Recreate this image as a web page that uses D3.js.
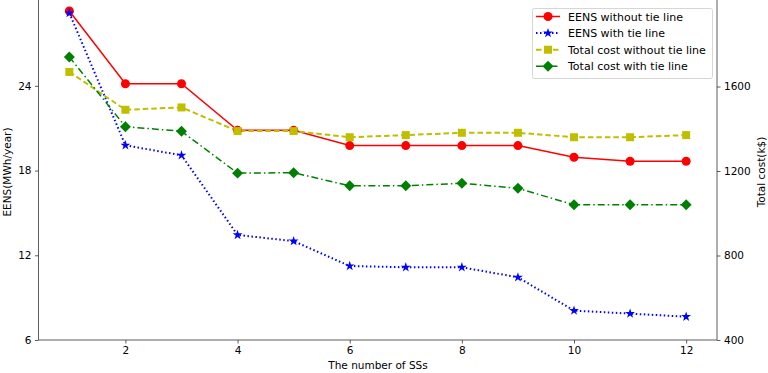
<!DOCTYPE html>
<html>
<head>
<meta charset="utf-8">
<script src="https://cdn.jsdelivr.net/npm/d3@7"></script>
<style>
  body { margin: 0; background: #fff; }
  text { font-family: "DejaVu Sans", sans-serif; fill: #000; }
</style>
</head>
<body>
<div id="chart"></div>
<script>
// data
const ssCount = [1, 2, 3, 4, 5, 6, 7, 8, 9, 10, 11, 12];
const eensWithout = [29.3, 24.15, 24.15, 20.85, 20.85, 19.77, 19.77, 19.77, 19.77, 18.94, 18.66, 18.66];
const eensWith = [29.16, 19.79, 19.08, 13.44, 13.0, 11.24, 11.15, 11.15, 10.44, 8.08, 7.87, 7.65];
const costWithout = [1669, 1490, 1501, 1389, 1389, 1360, 1370, 1381, 1381, 1360, 1360, 1370];
const costWith = [1740, 1410, 1388, 1190, 1192, 1130, 1130, 1142, 1118, 1040, 1040, 1040];
const xTicks = [2, 4, 6, 8, 10, 12];
const leftTicks = [6, 12, 18, 24];
const rightTicks = [400, 800, 1200, 1600];

const WIDTH = 768, HEIGHT = 373;
const svg = d3.select("#chart").append("svg")
  .attr("width", WIDTH)
  .attr("height", HEIGHT);

// scales
const x = d3.scaleLinear().domain([0.45, 12.55]).range([38.5, 717]);
const yL = d3.scaleLinear().domain([6, 30.08]).range([340, 0]);
const yR = d3.scaleLinear().domain([400, 2009.6]).range([340, 0]);

// axes
const xAxis = svg.append("g")
  .attr("transform", "translate(0,340)")
  .call(d3.axisBottom(x).tickValues(xTicks).tickSize(3.5).tickPadding(3.5));
const lAxis = svg.append("g")
  .attr("transform", "translate(38.5,0)")
  .call(d3.axisLeft(yL).tickValues(leftTicks).tickSize(3.5).tickPadding(3.5));
const rAxis = svg.append("g")
  .attr("transform", "translate(717,0)")
  .call(d3.axisRight(yR).tickValues(rightTicks).tickFormat(d3.format("d")).tickSize(3.5).tickPadding(3.5));

[xAxis, lAxis, rAxis].forEach(a => {
  a.select(".domain").remove();
  a.selectAll("line").attr("stroke", "#333").attr("stroke-width", 0.8);
  a.selectAll("text").attr("font-size", "10.5px").attr("font-family", "DejaVu Sans, sans-serif");
});

// spines
svg.append("line").attr("x1", 38.5).attr("x2", 38.5).attr("y1", 0).attr("y2", 340)
  .attr("stroke", "#333").attr("stroke-width", 0.8);
svg.append("line").attr("x1", 717).attr("x2", 717).attr("y1", 0).attr("y2", 340)
  .attr("stroke", "#333").attr("stroke-width", 0.8);
svg.append("line").attr("x1", 38.5).attr("x2", 717).attr("y1", 340).attr("y2", 340)
  .attr("stroke", "#333").attr("stroke-width", 0.8);

// axis labels
svg.append("text")
  .attr("x", 378).attr("y", 369)
  .attr("text-anchor", "middle")
  .attr("font-size", "10.5px")
  .text("The number of SSs");
svg.append("text")
  .attr("transform", "translate(11,172) rotate(-90)")
  .attr("text-anchor", "middle")
  .attr("font-size", "10.5px")
  .text("EENS(MWh/year)");
svg.append("text")
  .attr("transform", "translate(765,172) rotate(-90)")
  .attr("text-anchor", "middle")
  .attr("font-size", "10.5px")
  .text("Total cost(k$)");

// series definitions
const series = [
  { name: "EENS without tie line", values: eensWithout, y: yL, color: "#ff0000", dash: null, width: 1.5, marker: "circle" },
  { name: "EENS with tie line", values: eensWith, y: yL, color: "#0000ff", dash: "1.5,2.5", width: 2, marker: "star" },
  { name: "Total cost without tie line", values: costWithout, y: yR, color: "#bfbf00", dash: "5.5,3", width: 2, marker: "square" },
  { name: "Total cost with tie line", values: costWith, y: yR, color: "#008000", dash: "7,3,1.5,3", width: 1.5, marker: "diamond" }
];

const symbolOf = {
  circle: d3.symbol().type(d3.symbolCircle).size(64),
  star: d3.symbol().type(d3.symbolStar).size(30),
  square: d3.symbol().type(d3.symbolSquare).size(64),
  diamond: d3.symbol().type(d3.symbolSquare).size(60)
};

function drawMarker(g, s, px, py) {
  g.append("path")
    .attr("d", symbolOf[s.marker]())
    .attr("transform", `translate(${px},${py})` + (s.marker === "diamond" ? " rotate(45)" : ""))
    .attr("fill", s.color);
}

const plot = svg.append("g");
series.forEach(s => {
  const line = d3.line()
    .x((d, i) => x(ssCount[i]))
    .y(d => s.y(d));
  plot.append("path")
    .attr("d", line(s.values))
    .attr("fill", "none")
    .attr("stroke", s.color)
    .attr("stroke-width", s.width)
    .attr("stroke-dasharray", s.dash);
});
series.forEach(s => {
  s.values.forEach((v, i) => drawMarker(plot, s, x(ssCount[i]), s.y(v)));
});

// legend
const legend = svg.append("g");
legend.append("rect")
  .attr("x", 532.5).attr("y", 8.5)
  .attr("width", 180).attr("height", 70)
  .attr("rx", 2)
  .attr("fill", "#fff").attr("fill-opacity", 0.8)
  .attr("stroke", "#ccc").attr("stroke-width", 0.8);
series.forEach((s, i) => {
  const ly = 16.5 + i * 16.6;
  legend.append("line")
    .attr("x1", 536).attr("x2", 560).attr("y1", ly).attr("y2", ly)
    .attr("stroke", s.color).attr("stroke-width", s.width)
    .attr("stroke-dasharray", s.dash);
  drawMarker(legend, s, 548, ly);
  legend.append("text")
    .attr("x", 568).attr("y", ly + 4)
    .attr("font-size", "11px")
    .text(s.name);
});
</script>
</body>
</html>
